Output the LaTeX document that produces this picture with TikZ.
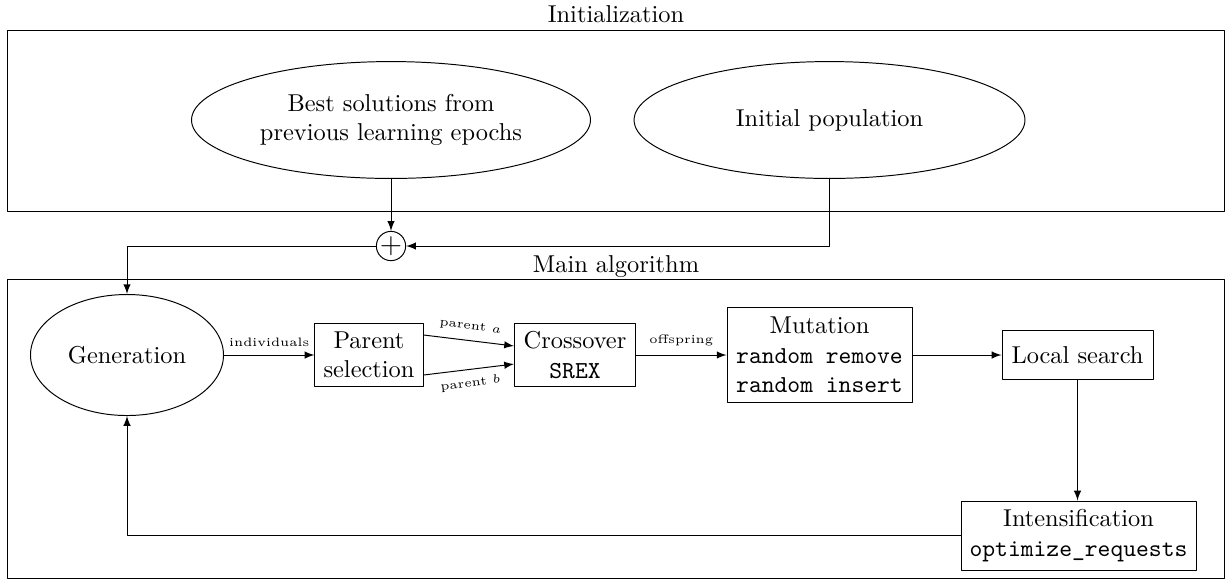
\documentclass[tikz,border=0pt]{standalone}
\usepackage{amsmath}
\usepackage{amssymb}
\usepackage{tikz}
\usetikzlibrary{shapes.geometric}
\usetikzlibrary{arrows}

\tikzset{
  frame/.style={draw, rectangle, inner sep=0pt},
  block/.style={draw, rectangle, align=center, inner sep=2pt},
  oval/.style={draw, ellipse, align=center, inner sep=0pt},
  edgelabel/.style={font=\tiny}
}

\begin{document}
\begin{tikzpicture}[line cap=round,line join=round,>=latex,x=0.0144cm,y=-0.0144cm]
\useasboundingbox (0,0) rectangle (1226,581);
% frames
\node[frame, minimum width=499pt, minimum height=73.8pt] (initbox) at (616,121) {};
\node[frame, minimum width=499pt, minimum height=122.9pt] (mainbox) at (616,429) {};
\node[anchor=base] (inittitle) at (616,22) {Initialization};
\node[anchor=base] (maintitle) at (616,272) {Main algorithm};
% initialization
\node[oval, minimum width=163.5pt, minimum height=47.9pt] (best) at (391,120) {Best solutions from\\previous learning epochs};
\node[oval, minimum width=160.2pt, minimum height=47.9pt] (initpop) at (829.5,120) {Initial population};
\node[draw, circle, inner sep=0pt, minimum size=11pt] (plus) at (391,246) {\large$+$};
% main loop
\node[oval, minimum width=79.1pt, minimum height=49.6pt] (gen) at (127,355) {Generation};
\node[block, minimum width=44.3pt, minimum height=26.2pt] (parent) at (369,355) {Parent\\selection};
\node[block, minimum width=49.6pt, minimum height=26.2pt] (cross) at (575,355) {Crossover\\\texttt{SREX}};
\node[block, minimum width=75.8pt, minimum height=38.9pt] (mut) at (819.5,355) {Mutation\\\texttt{random remove}\\\texttt{random insert}};
\node[block, minimum width=61.9pt, minimum height=20.1pt] (local) at (1077.5,355) {Local search};
\node[block, minimum width=96.3pt, minimum height=28.3pt] (intens) at (1078.5,535.5) {Intensification\\\texttt{optimize\_requests}};
%
\draw[->] (best) -- (plus);
\draw[->] (initpop.south) |- (plus.east);
\draw[->] (plus.west) -| (gen.north);
\draw[->] (gen) -- node[edgelabel, above] {individuals} (parent);
\draw[->] ([yshift=8.2pt]parent.east) -- node[edgelabel, above, sloped] {parent $a$} ([yshift=3.7pt]cross.west);
\draw[->] ([yshift=-8.2pt]parent.east) -- node[edgelabel, below, sloped] {parent $b$} ([yshift=-3.7pt]cross.west);
\draw[->] (cross) -- node[edgelabel, above] {offspring} (mut);
\draw[->] (mut) -- (local);
\draw[->] (local.south) -- (local.south |- intens.north);
\draw[->] (intens.west) -| (gen.south);
\end{tikzpicture}
\end{document}
